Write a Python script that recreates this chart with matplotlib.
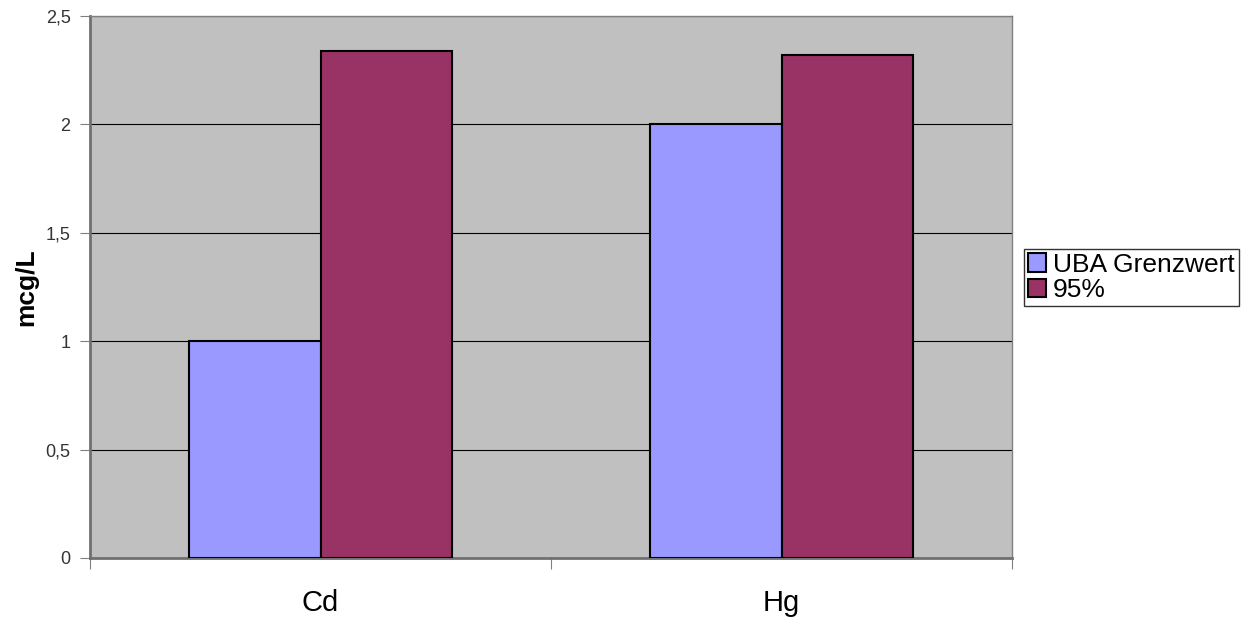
import matplotlib.pyplot as plt
import numpy as np

categories = ['Cd', 'Hg']
series_names = ['UBA Grenzwert', '95%']
uba_values = [1.0, 2.0]
p95_values = [2.34, 2.32]
y_ticks = [0, 0.5, 1, 1.5, 2, 2.5]
y_labels = ['0', '0,5', '1', '1,5', '2', '2,5']

plt.rcParams['font.family'] = ['Liberation Sans', 'DejaVu Sans']

fig = plt.figure(figsize=(12.57, 6.21), dpi=100)
ax = fig.add_axes([90 / 1257, 63 / 621, 922 / 1257, 542 / 621])
ax.set_facecolor('#C0C0C0')

x = np.arange(len(categories))
w = 1 / 3.5
ax.bar(x - w / 2, uba_values, w, color='#9999FF', edgecolor='black', linewidth=1.5,
       label=series_names[0], zorder=3)
ax.bar(x + w / 2, p95_values, w, color='#993366', edgecolor='black', linewidth=1.5,
       label=series_names[1], zorder=3)

ax.set_xlim(-0.5, 1.5)
ax.set_ylim(0, 2.5)
ax.set_yticks(y_ticks)
ax.set_yticklabels(y_labels, fontsize=13, color='#333333')
ax.yaxis.grid(True, color='black', linewidth=0.8, zorder=1)

# category boundaries carry the tick marks, labels sit at the centres
ax.set_xticks([-0.5, 0.5, 1.5])
ax.set_xticklabels([])
ax.set_xticks(x, minor=True)
ax.set_xticklabels(categories, minor=True, fontsize=21)
ax.tick_params(axis='x', which='minor', length=0, pad=22)
ax.tick_params(axis='x', which='major', length=8, color='#808080')
ax.tick_params(axis='y', length=7, color='#808080', pad=7)

for side in ['left', 'bottom']:
    ax.spines[side].set_color('#707070')
    ax.spines[side].set_linewidth(2)
for side in ['top', 'right']:
    ax.spines[side].set_color('#808080')
    ax.spines[side].set_linewidth(1)

ax.set_ylabel('mcg/L', fontsize=19, fontweight='bold', labelpad=5)

leg = ax.legend(loc='upper left', bbox_to_anchor=(1024 / 1257, 372 / 621),
                bbox_transform=fig.transFigure, frameon=True, fancybox=False,
                fontsize=19, handlelength=0.7, handleheight=0.7, handletextpad=0.25,
                borderpad=0.15, labelspacing=0.05, borderaxespad=0)
leg.get_frame().set_edgecolor('black')
leg.get_frame().set_linewidth(1)

fig.savefig('out.png', dpi=100)
